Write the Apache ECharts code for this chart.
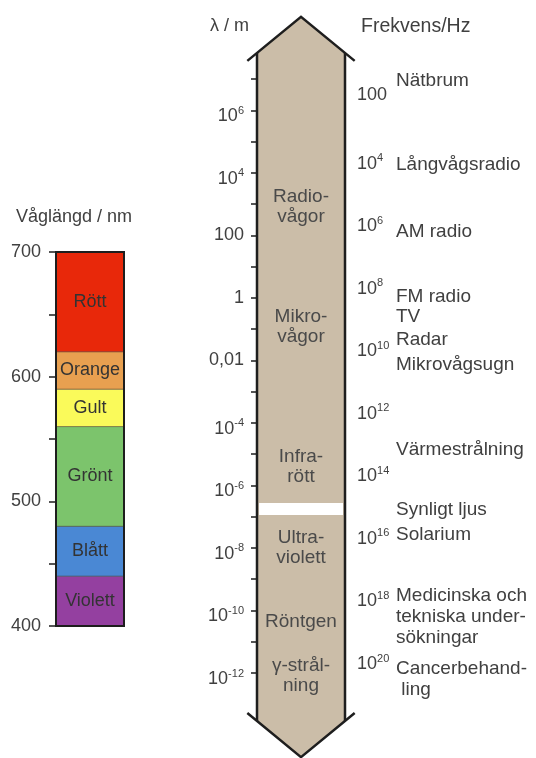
<!DOCTYPE html>
<html><head><meta charset="utf-8">
<script src="https://cdn.jsdelivr.net/npm/echarts@6/dist/echarts.min.js"></script>
<style>html,body{margin:0;padding:0;background:#fff}#c{width:536px;height:758px}</style>
</head><body><div id="c"></div>
<script>
// ---- Visible spectrum (wavelength in nm) ----
const bandNames = ['Violett', 'Blått', 'Grönt', 'Gult', 'Orange', 'Rött'];
const bandStart = [400, 440, 480, 560, 590, 620];
const bandEnd   = [440, 480, 560, 590, 620, 700];
const spectrumMin = 400, spectrumMax = 700, spectrumTickStep = 50, spectrumLabelStep = 100;

// ---- Electromagnetic spectrum: wavelength exponent (log10 of λ/m) ----
const lambdaExpMin = -12, lambdaExpMax = 7;
// frequency exponent (log10 of f/Hz)
const freqExpMin = 2, freqExpMax = 20;

const regionNames = ['Radio-\nvågor', 'Mikro-\nvågor', 'Infra-\nrött', 'Ultra-\nviolett', 'Röntgen', 'γ-strål-\nning'];
const regionCenterExp = [2.92, -0.93, -5.40, -7.99, -10.36, -12.10];   // λ exponent
const visibleBandExp = [-6.95, -6.56];                                   // λ exponent

const annotationTexts = ['Nätbrum', 'Långvågsradio', 'AM radio', 'FM radio', 'TV', 'Radar',
  'Mikrovågsugn', 'Värmestrålning', 'Synligt ljus', 'Solarium',
  'Medicinska och\ntekniska under-\nsökningar', 'Cancerbehand-\n ling'];
const annotationFreqExp = [1.55, 4.24, 6.38, 8.45, 9.09, 9.83, 10.63, 13.35, 15.27, 16.07, 18.69, 20.67];

// ---- styles ----
const FONT = 'Liberation Sans, Arial, sans-serif';
const TXT = '#404040';
const bandColors = ['#9440a0', '#4a88d4', '#7cc46c', '#fafa5a', '#e8a050', '#e8280a'];
const shaftFill = '#cbbda8';
const ink = '#1e1e1e';

const supRich = {
  b: { fontSize: 18, fontFamily: FONT, color: TXT, padding: [12, 0, 0, 0] },
  s: { fontSize: 11, fontFamily: FONT, color: TXT, verticalAlign: 'top', padding: [10, 0, 0, 0] }
};
function lambdaLabel(v) {
  const e = Math.round(v);
  if (e % 2 !== 0) return '';
  if (e === 2) return '100';
  if (e === 0) return '1';
  if (e === -2) return '0,01';
  return '{b|10}{s|' + e + '}';
}
function freqLabel(v) {
  const e = Math.round(v);
  if (e % 2 !== 0) return '';
  if (e === 2) return '100';
  return '{b|10}{s|' + e + '}';
}

const chart = echarts.init(document.getElementById('c'), null, { renderer: 'canvas' });
const option = {
  animation: false,
  backgroundColor: '#fff',
  title: [
    { text: 'Våglängd / nm', left: 11, top: 203, textStyle: { fontSize: 18, fontWeight: 'normal', color: TXT, fontFamily: FONT } },
    { text: 'λ / m', left: 205, top: 12, textStyle: { fontSize: 18, fontWeight: 'normal', color: TXT, fontFamily: FONT } },
    { text: 'Frekvens/Hz', left: 356, top: 12, textStyle: { fontSize: 19.5, fontWeight: 'normal', color: TXT, fontFamily: FONT } }
  ],
  grid: [
    { left: 56, top: 252, width: 68, height: 374 },
    { left: 257, top: 79, width: 88, height: 594 },
    { left: 257, top: 95, width: 88, height: 563 }
  ],
  xAxis: [
    { gridIndex: 0, type: 'value', min: 0, max: 1, show: false },
    { gridIndex: 1, type: 'value', min: 0, max: 1, show: false },
    { gridIndex: 2, type: 'value', min: 0, max: 1, show: false }
  ],
  yAxis: [
    { gridIndex: 0, type: 'value', min: spectrumMin, max: spectrumMax, interval: spectrumTickStep,
      axisLine: { show: false }, splitLine: { show: false },
      axisTick: { show: true, length: 7, lineStyle: { color: ink, width: 1.5 } },
      axisLabel: { margin: 15, fontSize: 18, color: TXT, fontFamily: FONT,
        formatter: v => (v % spectrumLabelStep === 0 ? String(v) : '') } },
    { gridIndex: 1, type: 'value', min: lambdaExpMin, max: lambdaExpMax, interval: 1,
      axisLine: { show: false }, splitLine: { show: false },
      axisTick: { show: true, length: 6, lineStyle: { color: ink, width: 1.5 } },
      axisLabel: { margin: 13, fontSize: 18, color: TXT, fontFamily: FONT, formatter: lambdaLabel, rich: supRich } },
    { gridIndex: 2, type: 'value', position: 'right', inverse: true, min: freqExpMin, max: freqExpMax, interval: 1,
      axisLine: { show: false }, splitLine: { show: false },
      axisTick: { show: true, length: 6, lineStyle: { color: ink, width: 1.5 } },
      axisLabel: { margin: 12, fontSize: 18, color: TXT, fontFamily: FONT, formatter: freqLabel, rich: supRich } }
  ],
  series: [
    // visible spectrum bands
    {
      type: 'custom', xAxisIndex: 0, yAxisIndex: 0,
      data: bandNames.map((n, i) => [bandStart[i], bandEnd[i], i]),
      renderItem(params, api) {
        const i = api.value(2);
        const p1 = api.coord([0, api.value(1)]);
        const p2 = api.coord([1, api.value(0)]);
        return { type: 'group', children: [
          { type: 'rect', shape: { x: p1[0], y: p1[1], width: p2[0] - p1[0], height: p2[1] - p1[1] },
            style: { fill: bandColors[i], stroke: 'rgba(60,50,40,0.45)', lineWidth: 1 } },
          { type: 'text', x: (p1[0] + p2[0]) / 2, y: (p1[1] + p2[1]) / 2,
            style: { text: bandNames[i], align: 'center', verticalAlign: 'middle', fontSize: 18, fontFamily: FONT, fill: '#333' } }
        ] };
      }
    },
    // spectrum outline
    {
      type: 'custom', xAxisIndex: 0, yAxisIndex: 0, z: 5,
      data: [[spectrumMin, spectrumMax]],
      renderItem(params, api) {
        const p1 = api.coord([0, api.value(1)]);
        const p2 = api.coord([1, api.value(0)]);
        return { type: 'rect', shape: { x: p1[0], y: p1[1], width: p2[0] - p1[0], height: p2[1] - p1[1] },
          style: { fill: null, stroke: ink, lineWidth: 2 } };
      }
    },
    // double arrow shaft
    {
      type: 'custom', xAxisIndex: 1, yAxisIndex: 1,
      data: [[lambdaExpMin, lambdaExpMax]],
      renderItem(params, api) {
        const L = api.coord([0, 0])[0], R = api.coord([1, 0])[0], M = (L + R) / 2;
        const wl = api.coord([-0.11, 0])[0], wr = api.coord([1.11, 0])[0];
        const yTop = api.coord([0, api.value(1) + 0.58])[1], yTip = api.coord([0, api.value(1) + 1.99])[1];
        const yBot = api.coord([0, api.value(0) - 1.28])[1], yBTip = api.coord([0, api.value(0) - 2.69])[1];
        const t = (L - wl) / (M - wl);
        const yJt = yTop + (yTip - yTop) * t, yJb = yBot + (yBTip - yBot) * t;
        const st = { stroke: ink, lineWidth: 2.5, fill: null, lineJoin: 'miter' };
        return { type: 'group', children: [
          { type: 'polygon', shape: { points: [[L, yJb], [L, yJt], [M, yTip], [R, yJt], [R, yJb], [M, yBTip]] }, style: { fill: shaftFill } },
          { type: 'polyline', shape: { points: [[wl, yTop], [M, yTip], [wr, yTop]] }, style: st },
          { type: 'polyline', shape: { points: [[wl, yBot], [M, yBTip], [wr, yBot]] }, style: st },
          { type: 'line', shape: { x1: L, y1: yJt, x2: L, y2: yJb }, style: st },
          { type: 'line', shape: { x1: R, y1: yJt, x2: R, y2: yJb }, style: st }
        ] };
      }
    },
    // visible light stripe
    {
      type: 'custom', xAxisIndex: 1, yAxisIndex: 1, z: 3,
      data: [visibleBandExp],
      renderItem(params, api) {
        const p1 = api.coord([0, api.value(1)]);
        const p2 = api.coord([1, api.value(0)]);
        return { type: 'rect', shape: { x: p1[0] + 2, y: p1[1], width: p2[0] - p1[0] - 4, height: p2[1] - p1[1] },
          style: { fill: '#ffffff' } };
      }
    },
    // region names inside the arrow
    {
      type: 'custom', xAxisIndex: 1, yAxisIndex: 1, z: 4,
      data: regionNames.map((n, i) => [0.5, regionCenterExp[i], i]),
      renderItem(params, api) {
        const p = api.coord([api.value(0), api.value(1)]);
        return { type: 'text', x: p[0], y: p[1],
          style: { text: regionNames[api.value(2)], align: 'center', verticalAlign: 'middle', fontSize: 19, lineHeight: 20, fontFamily: FONT, fill: '#4a4a4a' } };
      }
    },
    // annotations to the right (frequency axis)
    {
      type: 'custom', xAxisIndex: 2, yAxisIndex: 2, z: 4,
      data: annotationTexts.map((n, i) => [1, annotationFreqExp[i], i]),
      renderItem(params, api) {
        const p = api.coord([api.value(0), api.value(1)]);
        return { type: 'text', x: p[0] + 51, y: p[1],
          style: { text: annotationTexts[api.value(2)], align: 'left', verticalAlign: 'middle', fontSize: 19, lineHeight: 21, fontFamily: FONT, fill: TXT } };
      }
    }
  ]
};
chart.setOption(option);
</script>
</body></html>
